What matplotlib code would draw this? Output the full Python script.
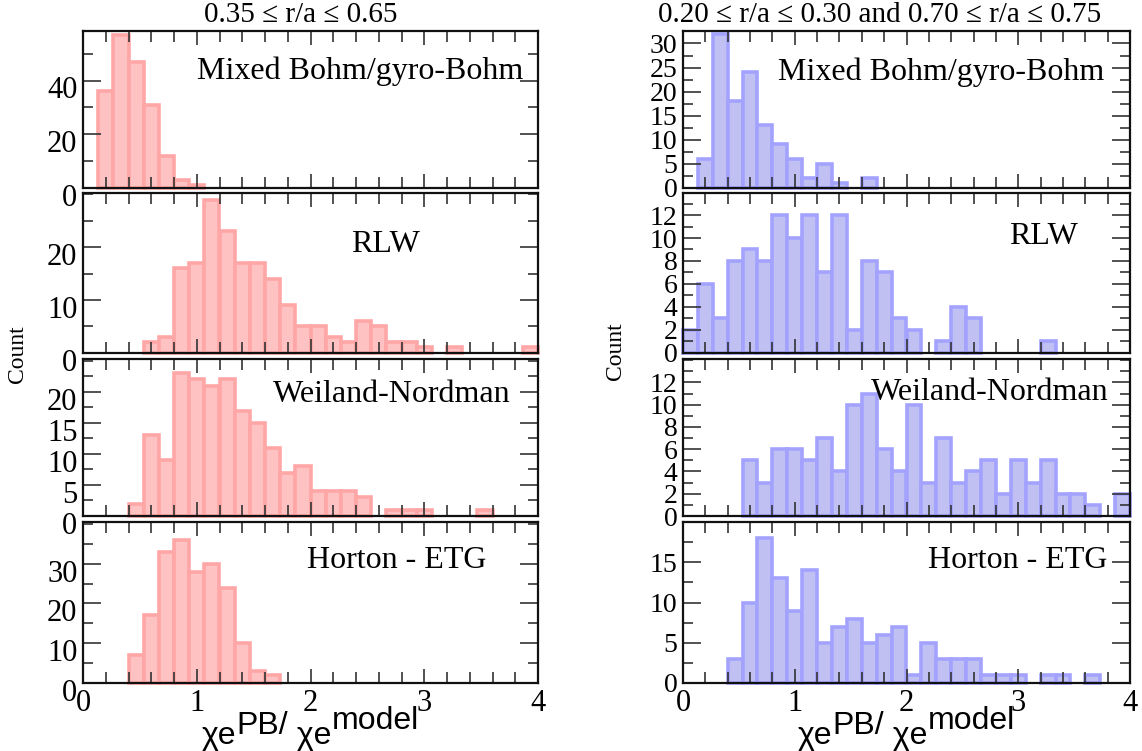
import numpy as np
import matplotlib
matplotlib.use("Agg")
import matplotlib.pyplot as plt
from matplotlib.ticker import MultipleLocator, FixedLocator, NullFormatter
from matplotlib.transforms import ScaledTranslation

# ---------------- data ----------------
bin_edges = np.linspace(0, 4, 31)   # 30 bins of width 4/30

models = ["Mixed Bohm/gyro-Bohm", "RLW", "Weiland-Nordman", "Horton - ETG"]
titles = [r"0.35 ≤ r/a ≤ 0.65", r"0.20 ≤ r/a ≤ 0.30 and 0.70 ≤ r/a ≤ 0.75"]

# left column (0.35 <= r/a <= 0.65)
mixed_left = [0, 36, 57, 47, 31, 12, 3, 1, 0, 0, 0, 0, 0, 0, 0,
              0, 0, 0, 0, 0, 0, 0, 0, 0, 0, 0, 0, 0, 0, 0]
rlw_left = [0, 0, 0, 0, 2, 3, 16, 17, 29, 23, 17, 17, 14, 9, 5,
            5, 3, 2, 6, 5, 2, 2, 1, 0, 1, 0, 0, 0, 0, 1]
weiland_left = [0, 0, 0, 2, 13, 9, 23, 22, 21, 22, 17, 15, 11, 7, 8,
                4, 4, 4, 3, 0, 1, 1, 1, 0, 0, 0, 1, 0, 0, 0]
horton_left = [0, 0, 0, 7, 17, 33, 36, 28, 30, 24, 10, 3, 2, 0, 0,
               0, 0, 0, 0, 0, 0, 0, 0, 0, 0, 0, 0, 0, 0, 0]

# right column (0.20-0.30 and 0.70-0.75)
mixed_right = [0, 6, 32, 18, 24, 13, 9, 6, 2, 5, 1, 0, 2, 0, 0,
               0, 0, 0, 0, 0, 0, 0, 0, 0, 0, 0, 0, 0, 0, 0]
rlw_right = [2, 6, 3, 8, 9, 8, 12, 10, 12, 7, 12, 2, 8, 7, 3,
             2, 0, 1, 4, 3, 0, 0, 0, 0, 1, 0, 0, 0, 0, 0]
weiland_right = [0, 0, 0, 0, 5, 3, 6, 6, 5, 7, 4, 10, 11, 6, 4,
                 10, 3, 7, 3, 4, 5, 2, 5, 3, 5, 2, 2, 1, 0, 2]
horton_right = [0, 0, 0, 3, 10, 18, 13, 9, 14, 5, 7, 8, 5, 6, 7,
                1, 5, 3, 3, 3, 1, 1, 1, 0, 1, 1, 0, 1, 0, 0]

left_counts = [mixed_left, rlw_left, weiland_left, horton_left]
right_counts = [mixed_right, rlw_right, weiland_right, horton_right]

left_ylim = [58.5, 30.2, 25.3, 40.5]
right_ylim = [32.6, 13.9, 14.1, 20.0]
left_major = [[0, 20, 40], [0, 10, 20], [0, 5, 10, 15, 20], [0, 10, 20, 30]]
left_minor = [10, 5, 2.5, 5]
right_major = [[0, 5, 10, 15, 20, 25, 30], [0, 2, 4, 6, 8, 10, 12],
               [0, 2, 4, 6, 8, 10, 12], [0, 5, 10, 15]]
right_minor = [2.5, 1, 1, 2.5]

# ---------------- style ----------------
W, H = 1142, 751
fig = plt.figure(figsize=(W / 100, H / 100), dpi=100)
SERIF = ["Liberation Serif", "DejaVu Serif"]
SANS = ["Liberation Sans", "DejaVu Sans"]

pink_fill, pink_edge = "#ffc2c2", "#ffa6a6"
blue_fill, blue_edge = "#c0c0f2", "#a3a3ff"

def fx(px):
    return px / W

def fy(py):
    return 1 - py / H

rows_px = [(31, 187.7), (193.3, 352.7), (359, 516), (522, 683)]
cols_px = [(83, 538), (683, 1130)]

label_pos = [
    [(360, 71), (386, 244), (392, 395), (397, 560)],
    [(941, 72), (1043, 236), (990, 392), (1018, 561)],
]

width = bin_edges[1] - bin_edges[0]

for c, (counts_list, ylims, majors, minors, fill, edge, lab_fs) in enumerate([
        (left_counts, left_ylim, left_major, left_minor, pink_fill, pink_edge, 22),
        (right_counts, right_ylim, right_major, right_minor, blue_fill, blue_edge, 20)]):
    x0, x1 = cols_px[c]
    for r in range(4):
        top, bot = rows_px[r]
        ax = fig.add_axes([fx(x0), fy(bot), fx(x1) - fx(x0), fy(top) - fy(bot)])
        counts = np.array(counts_list[r], dtype=float)
        mask = counts > 0
        ax.bar(bin_edges[:-1][mask], counts[mask], width=width, align="edge",
               color=fill, edgecolor=edge, linewidth=2.6, clip_on=False, zorder=1)
        ax.set_xlim(0, 4)
        ax.set_ylim(0, ylims[r])
        ax.xaxis.set_major_locator(MultipleLocator(1))
        ax.xaxis.set_minor_locator(MultipleLocator(0.2))
        ax.yaxis.set_major_locator(FixedLocator(majors[r]))
        ax.yaxis.set_minor_locator(MultipleLocator(minors[r]))
        ax.tick_params(which="both", direction="in", top=True, right=True,
                       width=1.2, color="#333333")
        ax.tick_params(which="major", axis="y", length=13)
        ax.tick_params(which="minor", axis="y", length=7)
        ax.tick_params(which="major", axis="x", length=10)
        ax.tick_params(which="minor", axis="x", length=8)
        ax.tick_params(axis="y", labelsize=lab_fs, pad=4)
        ax.tick_params(axis="x", labelsize=22, pad=4)
        for sp in ax.spines.values():
            sp.set_linewidth(1.6)
            sp.set_color("#111111")
            sp.set_zorder(3)
        for lab in ax.get_yticklabels() + ax.get_xticklabels():
            lab.set_fontfamily(SERIF)
        if r < 3:
            ax.xaxis.set_major_formatter(NullFormatter())
        if c == 0:
            for lab in ax.get_yticklabels():
                lab.set_transform(lab.get_transform() +
                                  ScaledTranslation(0, -5 / 72, fig.dpi_scale_trans))
        lx, ly = label_pos[c][r]
        fig.text(fx(lx), fy(ly), models[r], ha="center", va="center",
                 fontsize=23, family=SERIF)

# column titles
fig.text(fx(301), fy(15), titles[0], ha="center", va="center", fontsize=21, family=SERIF)
fig.text(fx(880), fy(15), titles[1], ha="center", va="center", fontsize=21, family=SERIF)

# y labels
fig.text(fx(17), fy(354), "Count", rotation=90, ha="center", va="center",
         fontsize=17, family=SERIF)
fig.text(fx(615), fy(351), "Count", rotation=90, ha="center", va="center",
         fontsize=17, family=SERIF)

# x labels built from pieces (superscripts nearly full size)
XFS = 23
renderer = fig.canvas.get_renderer()
for cx in [(83 + 538) / 2, (683 + 1130) / 2]:
    base = fig.text(fx(cx), fy(744), "χe", ha="left", va="baseline",
                    fontsize=XFS, family=SANS)
    t2 = plt.annotate("PB/", xy=(1, 0), xycoords=base, xytext=(0, 7),
                      textcoords="offset points", ha="left", va="bottom",
                      fontsize=XFS, family=SANS, annotation_clip=False)
    t3 = plt.annotate(" χe", xy=(1, 0), xycoords=t2, xytext=(0, -7),
                      textcoords="offset points", ha="left", va="bottom",
                      fontsize=XFS, family=SANS, annotation_clip=False)
    t4 = plt.annotate("model", xy=(1, 0), xycoords=t3, xytext=(0, 11),
                      textcoords="offset points", ha="left", va="bottom",
                      fontsize=XFS, family=SANS, annotation_clip=False)
    fig.canvas.draw()
    b0 = base.get_window_extent(renderer)
    b4 = t4.get_window_extent(renderer)
    total = b4.x1 - b0.x0
    base.set_x(fx(cx - total / 2))

fig.savefig("out.png", dpi=100)
